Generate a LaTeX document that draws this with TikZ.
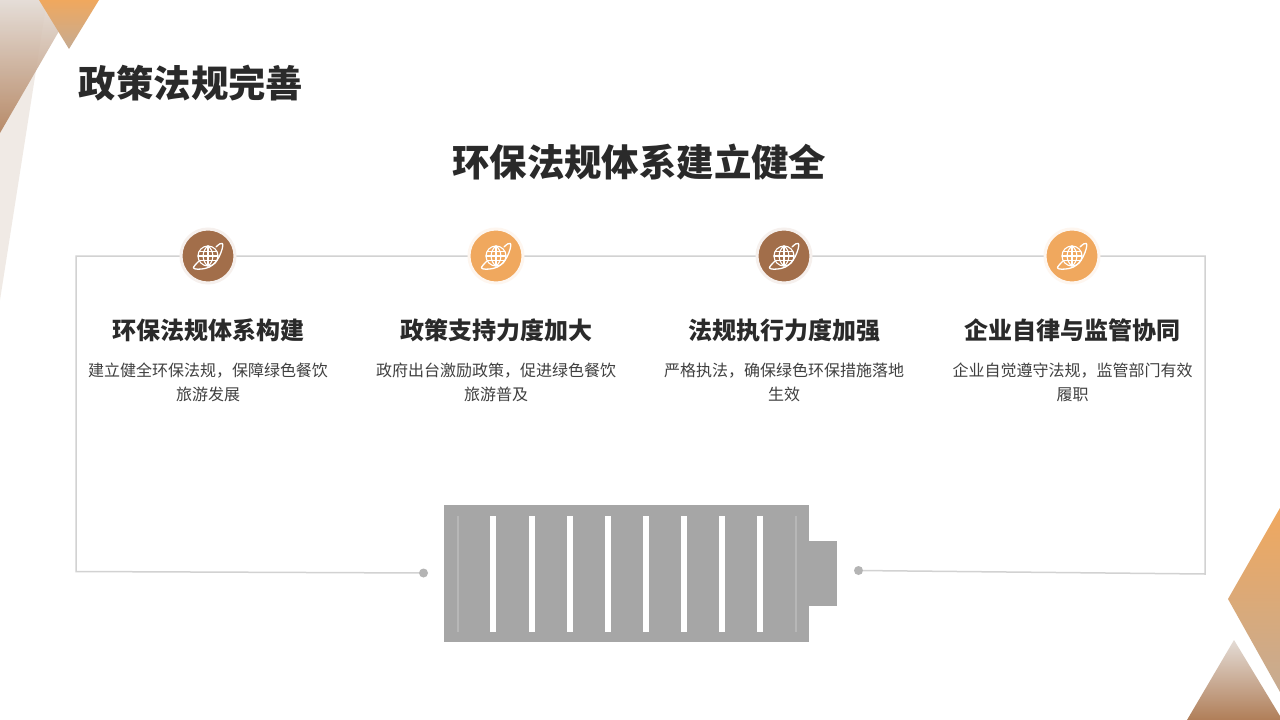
\documentclass[tikz,border=0pt]{standalone}
\usepackage{fontspec}
\setmainfont{Noto Sans CJK SC}
\usetikzlibrary{calc}
\definecolor{ink}{HTML}{2A2A2A}
\definecolor{bodyink}{HTML}{404040}
\definecolor{rulegray}{HTML}{D2D2D2}
\definecolor{batgray}{HTML}{A6A6A6}
\definecolor{dotgray}{HTML}{B4B4B4}
\definecolor{brownc}{HTML}{A26E4A}
\definecolor{orangec}{HTML}{F0A85E}
\definecolor{paleb}{HTML}{F0EAE5}
\definecolor{tribot}{HTML}{B07E58}
\definecolor{tritop}{HTML}{E4DCD6}
\definecolor{orbot}{HTML}{C6AB92}
\tikzset{
 x=1pt,y=-1pt,
 bigtitle/.style={inner sep=0pt,text=ink,font=\fontsize{37.4}{44}\selectfont\bfseries},
 headtext/.style={inner sep=0pt,text=ink,font=\fontsize{24}{28}\selectfont\bfseries},
 bodytext/.style={inner sep=0pt,text=bodyink,align=center,font=\fontsize{16}{23.6}\selectfont},
 ringnode/.style={circle,minimum size=54pt,inner sep=0pt,fill=#1,draw=#1!10!white,line width=3pt},
 framerule/.style={draw=rulegray,line width=1.5pt},
 dotnode/.style={circle,fill=dotgray,minimum size=9pt,inner sep=0pt},
 whitebar/.style={fill=white},
 pics/globeicon/.style={code={
  \begin{scope}[draw=white,line width=1.1pt,line cap=round,line join=round]
   \draw (0,0) circle[radius=10];
   \draw (0,-10) -- (0,10);
   \draw (-10,0) -- (10,0);
   \draw (-8.8,-4.8) -- (8.8,-4.8);
   \draw (-8.8,4.8) -- (8.8,4.8);
   \draw (0,-10) .. controls (-6.5,-5) and (-6.5,5) .. (0,10);
   \draw (0,-10) .. controls (6.5,-5) and (6.5,5) .. (0,10);
   \draw[line width=1.3pt] (8,-9) .. controls (11,-12) and (13.5,-13.5) .. (14.5,-12.5) .. controls (15.5,-11) and (14,-5) .. (11,1) .. controls (8,7) and (3,11.5) .. (-3,12.5) .. controls (-8,13.5) and (-13.5,13.5) .. (-14.5,12) .. controls (-15,11) and (-12,8) .. (-9.5,5.5);
  \end{scope}}}
}
\begin{document}
\begin{tikzpicture}
\useasboundingbox (0,0) rectangle (1280,720);
\fill[white] (0,0) rectangle (1280,720);
% decorative corners
\fill[paleb] (0,0) -- (47,0) -- (0,300) -- cycle;
\path[top color=tritop,bottom color=tribot,opacity=0.88,draw=none] (0,0) -- (77,0) -- (0,133) -- cycle;
\path[top color=orangec,bottom color=orbot,draw=none] (39,0) -- (99,0) -- (69,49) -- cycle;
\path[top color=orangec,bottom color=orbot,draw=none] (1280,508) -- (1228,599) -- (1280,692) -- cycle;
\path[top color=tritop,bottom color=tribot,draw=none] (1234,640) -- (1280,716) -- (1280,720) -- (1187,720) -- cycle;
% frame with dots
\node[dotnode] (dl) at (423.5,573) {};
\node[dotnode] (dr) at (858.5,570.5) {};
\coordinate (c1) at (76,571.5);
\coordinate (c2) at (76,256);
\coordinate (c3) at (1205,256);
\coordinate (c4) at (1205,574);
\draw[framerule] (dl) -- (c1) -- (c2) -- (c3) -- (c4) -- (dr);
% icons
\node[ringnode=brownc] (i1) at (208,256) {};
\node[ringnode=orangec] (i2) at (496,256) {};
\node[ringnode=brownc] (i3) at (784,256) {};
\node[ringnode=orangec] (i4) at (1072,256) {};
\foreach \n in {i1,i2,i3,i4} \pic at (\n) {globeicon};
% titles
\node[bigtitle] (t1) at (191,83) {政策法规完善};
\node[bigtitle] (t2) at (639.3,162) {环保法规体系建立健全};
\node[headtext] (h1) at (208,330.5) {环保法规体系构建};
\node[headtext] (h2) at (496,330.5) {政策支持力度加大};
\node[headtext] (h3) at (784,330.5) {法规执行力度加强};
\node[headtext] (h4) at (1072.5,330.5) {企业自律与监管协同};
\node[bodytext] (b1) at (208,382.5) {建立健全环保法规，保障绿色餐饮\\旅游发展};
\node[bodytext] (b2) at (496,382.5) {政府出台激励政策，促进绿色餐饮\\旅游普及};
\node[bodytext] (b3) at (784,382.5) {严格执法，确保绿色环保措施落地\\生效};
\node[bodytext] (b4) at (1072.5,382.5) {企业自觉遵守法规，监管部门有效\\履职};
% battery
\fill[batgray] (444,505) rectangle (809,642);
\fill[batgray] (809,541) rectangle (837,606);
\foreach \k in {0,...,7} \fill[whitebar] ({490.4+38.14*\k},515.7) rectangle ({496.4+38.14*\k},631.7);
\fill[white,opacity=0.2] (457.3,515.7) rectangle (459,631.7);
\fill[white,opacity=0.2] (795.3,515.7) rectangle (797,631.7);
\end{tikzpicture}
\end{document}
